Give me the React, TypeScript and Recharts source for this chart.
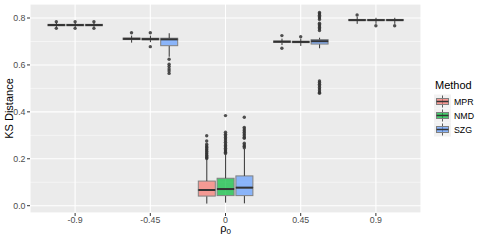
import React from 'react';
import { ComposedChart, Bar, Scatter, XAxis, YAxis, CartesianGrid, Label } from 'recharts';

// rho_0 levels on the x axis, one group of three boxes per level
const categories = ['-0.9', '-0.45', '0', '0.45', '0.9'];
const methods = ['MPR', 'NMD', 'SZG'];
const methodColors = ['#F8766D', '#00BA38', '#619CFF'];

// box statistics, indexed [method][category]
const whiskerLow = [
  [0.760, 0.695, 0.009, 0.685, 0.775],
  [0.760, 0.697, 0.013, 0.681, 0.775],
  [0.760, 0.635, 0.010, 0.671, 0.775],
];
const quart1 = [
  [0.767, 0.708, 0.041, 0.696, 0.789],
  [0.767, 0.707, 0.043, 0.695, 0.789],
  [0.767, 0.682, 0.043, 0.689, 0.789],
];
const medians = [
  [0.770, 0.711, 0.067, 0.699, 0.791],
  [0.770, 0.710, 0.071, 0.698, 0.791],
  [0.770, 0.709, 0.077, 0.701, 0.791],
];
const quart3 = [
  [0.773, 0.715, 0.105, 0.702, 0.794],
  [0.773, 0.714, 0.117, 0.701, 0.794],
  [0.773, 0.714, 0.127, 0.708, 0.794],
];
const whiskerHigh = [
  [0.780, 0.725, 0.198, 0.712, 0.805],
  [0.780, 0.725, 0.219, 0.712, 0.801],
  [0.780, 0.735, 0.242, 0.716, 0.801],
];

// outlying points, indexed [method][category]
const outliers = [
  [
    [0.784, 0.756],
    [0.737],
    [0.298, 0.276, 0.262, 0.255, 0.249, 0.243, 0.238, 0.232, 0.226, 0.221, 0.215, 0.210, 0.205, 0.201],
    [0.725, 0.671],
    [0.813],
  ],
  [
    [0.784, 0.756],
    [0.737, 0.678],
    [0.384, 0.313, 0.305, 0.298, 0.291, 0.284, 0.277, 0.270, 0.263, 0.257, 0.251, 0.245, 0.239, 0.233, 0.228, 0.223],
    [0.720],
    [0.767],
  ],
  [
    [0.784, 0.756],
    [0.624, 0.603, 0.593, 0.583, 0.574, 0.564],
    [0.377, 0.334, 0.327, 0.320, 0.313, 0.306, 0.299, 0.292, 0.287, 0.266, 0.259, 0.253, 0.247],
    [0.824, 0.818, 0.812, 0.806, 0.800, 0.794, 0.778, 0.772, 0.766, 0.760, 0.754, 0.747,
     0.532, 0.525, 0.518, 0.511, 0.504, 0.497, 0.490, 0.483, 0.479],
    [0.767],
  ],
];

const yTicks = [0, 0.2, 0.4, 0.6, 0.8];
const yMinor = [0.1, 0.3, 0.5, 0.7];
const yDomain = [-0.0311, 0.8597];
const xTicks = [1, 2, 3, 4, 5];
const dodge = 0.25;

const boxRows = [];
const pointRows = [];
methods.forEach((m, mi) => {
  categories.forEach((c, ci) => {
    const x = ci + 1 + (mi - 1) * dodge;
    boxRows.push({
      x,
      method: mi,
      base: whiskerLow[mi][ci],
      lw: quart1[mi][ci] - whiskerLow[mi][ci],
      bl: medians[mi][ci] - quart1[mi][ci],
      bu: quart3[mi][ci] - medians[mi][ci],
      uw: whiskerHigh[mi][ci] - quart3[mi][ci],
    });
    outliers[mi][ci].forEach((v) => pointRows.push({ x, y: v }));
  });
});

const INK = '#333333';

const Nothing = () => <g />;

const Whisker = (p: any) => {
  const cx = p.x + p.width / 2;
  return <line x1={cx} x2={cx} y1={p.y} y2={p.y + p.height} stroke={INK} strokeWidth={1} />;
};

const BoxLower = (p: any) => (
  <rect x={p.x} y={p.y} width={p.width} height={p.height}
    fill={methodColors[p.payload.method]} fillOpacity={0.7} stroke="#808080" strokeWidth={1} />
);

const BoxUpper = (p: any) => (
  <g>
    <rect x={p.x} y={p.y} width={p.width} height={p.height}
      fill={methodColors[p.payload.method]} fillOpacity={0.7} stroke="#808080" strokeWidth={1} />
    <line x1={p.x} x2={p.x + p.width} y1={p.y + p.height} y2={p.y + p.height} stroke={INK} strokeWidth={2} />
  </g>
);

const OutlierDot = (p: any) => <circle cx={p.cx} cy={p.cy} r={1.7} fill={INK} fillOpacity={0.85} />;

const RhoLabel = (props: any) => {
  const vb = props.viewBox;
  return (
    <text x={vb.x + vb.width / 2} y={232} textAnchor="middle" fontSize={11} fill="#000">
      ρ<tspan fontSize={8} dy={2}>0</tspan>
    </text>
  );
};

const KsLabel = (props: any) => {
  const vb = props.viewBox;
  const cy = vb.y + vb.height / 2;
  return (
    <text x={12.5} y={cy} transform={`rotate(-90 12.5 ${cy})`} textAnchor="middle" fontSize={11} fill="#000">
      KS Distance
    </text>
  );
};

export default function App() {
  return (
    <div style={{ position: 'absolute', left: 0, top: 0, width: 480, height: 240, background: '#fff', fontFamily: '"Liberation Sans", Arial, sans-serif' }}>
      <ComposedChart width={480} height={240} data={boxRows} margin={{ top: 4, right: 59, bottom: 0, left: 0 }}>
        <CartesianGrid fill="#EBEBEB" stroke="#FFFFFF" strokeWidth={1.1} />
        <CartesianGrid vertical={false} yAxisId="minor" stroke="#FFFFFF" strokeWidth={0.5} />
        <XAxis
          type="number"
          dataKey="x"
          domain={[0.4, 5.6]}
          allowDataOverflow
          ticks={xTicks}
          interval={0}
          tickFormatter={(v) => categories[v - 1]}
          axisLine={false}
          tickLine={{ stroke: INK }}
          tickSize={3}
          tickMargin={1}
          height={27}
          tick={{ fontSize: 8.8, fill: '#4D4D4D' }}
        >
          <Label content={RhoLabel} />
        </XAxis>
        <YAxis
          type="number"
          domain={yDomain}
          allowDataOverflow
          ticks={yTicks}
          interval={0}
          tickFormatter={(v) => v.toFixed(1)}
          axisLine={false}
          tickLine={{ stroke: INK }}
          tickSize={3}
          tickMargin={1.5}
          width={30}
          tick={{ fontSize: 8.8, fill: '#4D4D4D' }}
        >
          <Label content={KsLabel} />
        </YAxis>
        <YAxis yAxisId="minor" type="number" domain={yDomain} allowDataOverflow ticks={yMinor} interval={0} hide />
        <Bar dataKey="base" stackId="box" barSize={17} shape={Nothing} isAnimationActive={false} />
        <Bar dataKey="lw" stackId="box" barSize={17} shape={Whisker} isAnimationActive={false} />
        <Bar dataKey="bl" stackId="box" barSize={17} shape={BoxLower} isAnimationActive={false} />
        <Bar dataKey="bu" stackId="box" barSize={17} shape={BoxUpper} isAnimationActive={false} />
        <Bar dataKey="uw" stackId="box" barSize={17} shape={Whisker} isAnimationActive={false} />
        <Scatter data={pointRows} dataKey="y" shape={OutlierDot} isAnimationActive={false} />
      </ComposedChart>
      <svg width={480} height={240} style={{ position: 'absolute', left: 0, top: 0 }}>
        <text x={435} y={88.5} fontSize={11} fill="#000">Method</text>
        {methods.map((m, i) => {
          const cy = 101.5 + i * 14;
          return (
            <g key={m}>
              <rect x={434} y={cy - 7} width={17} height={14} fill="#F2F2F2" />
              <line x1={442.5} x2={442.5} y1={cy - 6} y2={cy + 6} stroke={INK} strokeWidth={0.8} />
              <rect x={436.5} y={cy - 3} width={12} height={6} fill={methodColors[i]} fillOpacity={0.7} stroke="#808080" strokeWidth={1} />
              <line x1={436.5} x2={448.5} y1={cy} y2={cy} stroke={INK} strokeWidth={1.5} />
              <text x={454} y={cy + 3.2} fontSize={8.8} fill="#000">{m}</text>
            </g>
          );
        })}
      </svg>
    </div>
  );
}
